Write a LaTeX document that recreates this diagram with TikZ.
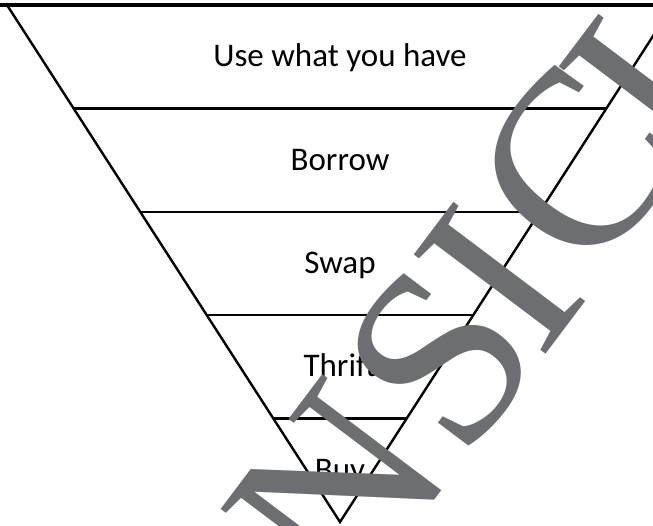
\documentclass[tikz,border=0pt]{standalone}
\usepackage{fontspec}
\setmainfont{Carlito}
\newfontfamily\wmfont{Liberation Serif}
\usetikzlibrary{calc}
\definecolor{wmgray}{RGB}{109,110,113}
\tikzset{
  edge/.style    = {draw=black, line width=1.8pt},
  topedge/.style = {draw=black, line width=2.3pt},
  lvl/.style     = {font=\fontsize{24.75}{30}\selectfont, inner sep=0pt, anchor=base},
  wm/.style      = {text=wmgray, font=\wmfont\fontsize{189}{189}\selectfont,
                    rotate=53, inner sep=0pt},
}

\begin{document}
\begin{tikzpicture}[x=0.75pt, y=-0.75pt]
  \useasboundingbox (0,0) rectangle (653,525);
  \clip (0,0) rectangle (653,525);

  % corners of the funnel
  \coordinate (tl) at (7,5);
  \coordinate (tr) at (673,5);
  \coordinate (apex) at (340,522);

  \draw[topedge] (0,5) -- (653,5);
  \draw[edge] (tl) -- (apex) -- (tr);
  \draw[edge] ($(tl)!0.2!(apex)$) -- ($(tr)!0.2!(apex)$);
  \draw[edge] ($(tl)!0.4!(apex)$) -- ($(tr)!0.4!(apex)$);
  \draw[edge] ($(tl)!0.6!(apex)$) -- ($(tr)!0.6!(apex)$);
  \draw[edge] ($(tl)!0.8!(apex)$) -- ($(tr)!0.8!(apex)$);

  \node[lvl] (use)    at (340,66.5) {Use what you have};
  \node[lvl] (borrow) at (340,170)  {Borrow};
  \node[lvl] (swap)   at (340,273)  {Swap};
  \node[lvl] (thrift) at (340,376.5){Thrift};
  \node[lvl] (buy)    at (340,480)  {Buy};

  % watermark
  \node[wm] (wmN) at (337,492) {N};
  \node[wm] (wmS) at (440,358) {S};
  \node[wm] (wmI) at (500,278) {I};
  \node[wm] (wmC) at (577,166) {C};
  \node[wm] (wmJ) at (645,90)  {I};
\end{tikzpicture}
\end{document}
